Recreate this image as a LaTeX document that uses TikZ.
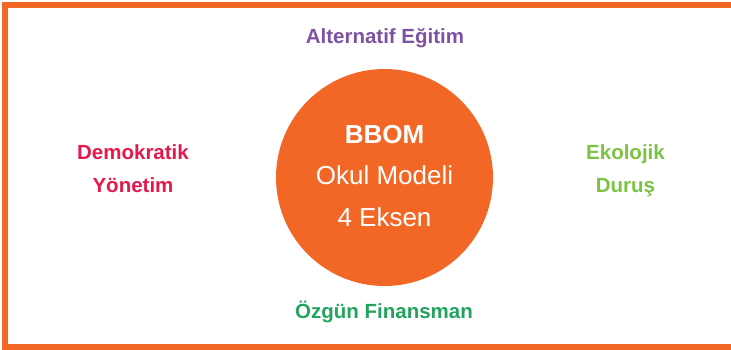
\documentclass[tikz,border=0pt]{standalone}
\usepackage{fontspec}
\setmainfont{Liberation Sans}
\definecolor{bbomorange}{HTML}{F26626}
\definecolor{altpurple}{HTML}{7E52A3}
\definecolor{demred}{HTML}{E5194C}
\definecolor{ekogreen}{HTML}{7CC243}
\definecolor{finegreen}{HTML}{22A45F}
\begin{document}
\begin{tikzpicture}[x=1pt,y=-1pt,
  axislabel/.style={font=\bfseries\fontsize{20.5}{33}\selectfont, align=center, anchor=base, inner sep=0pt},
  core/.style={circle, fill=bbomorange, minimum size=217pt, inner sep=0pt},
  coretext/.style={text=white, font=\fontsize{26}{41.5}\selectfont, align=center, anchor=base, inner sep=0pt}]
\useasboundingbox (0,0) rectangle (731,349);
\clip (0,0) rectangle (731,349);
\draw[bbomorange, line width=6pt] (4.5,5) rectangle (745,347);
\node[core] (circ) at (384.5,177.5) {};
\node[coretext] (ctext) at (384.5,226) {\textbf{BBOM}\\Okul Modeli\\4 Eksen};
\node[axislabel, text=altpurple] (alt) at (385,43) {Alternatif Eğitim};
\node[axislabel, text=demred] (dem) at (133,192) {Demokratik\\Yönetim};
\node[axislabel, text=ekogreen] (eko) at (625.5,192) {Ekolojik\\Duruş};
\node[axislabel, text=finegreen] (fin) at (384,318) {Özgün Finansman};
\end{tikzpicture}
\end{document}
